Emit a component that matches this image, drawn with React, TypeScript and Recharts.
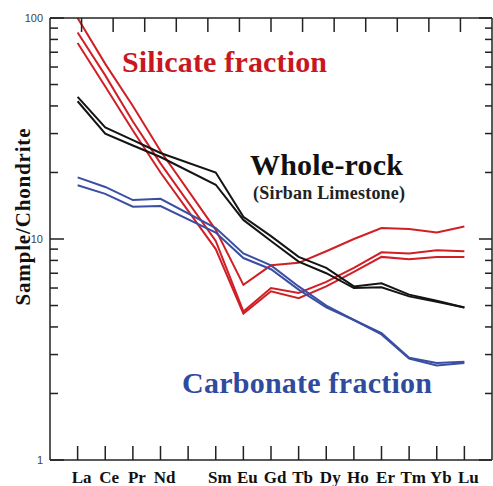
import { LineChart, Line, XAxis, YAxis } from 'recharts';

document.body.style.margin = '0';

const ELEMENTS = ['La', 'Ce', 'Pr', 'Nd', 'Pm', 'Sm', 'Eu', 'Gd', 'Tb', 'Dy', 'Ho', 'Er', 'Tm', 'Yb', 'Lu'];

// silicate fraction (red)
const SILICATE_A = [100, 62, 40, 25, null, 11, 6.2, 7.6, 7.8, 8.8, 10, 11.2, 11.1, 10.7, 11.4];
const SILICATE_B = [86, 55, 34, 22, null, 9.8, 4.7, 6.0, 5.7, 6.4, 7.4, 8.7, 8.6, 8.9, 8.8];
const SILICATE_C = [77, 49, 31, 20, null, 9.0, 4.6, 5.8, 5.4, 6.1, 7.1, 8.3, 8.1, 8.3, 8.3];

// whole-rock (black)
const WHOLE_A = [44, 32, 28, 24.5, null, 20, 12.6, 10.3, 8.3, 7.4, 6.1, 6.3, 5.6, 5.25, 4.9];
const WHOLE_B = [42, 30, 26.5, 23.5, null, 17.6, 12.2, 9.8, 7.9, 7.0, 6.0, 6.05, 5.5, 5.2, 4.9];

// carbonate fraction (blue)
const CARB_A = [19, 17.2, 15.0, 15.2, null, 11.2, 8.6, 7.6, 6.1, 5.0, 4.3, 3.75, 2.9, 2.75, 2.78];
const CARB_B = [17.5, 16, 14.0, 14.1, null, 10.7, 8.2, 7.3, 5.9, 4.9, 4.3, 3.7, 2.88, 2.68, 2.75];

const Y_TICKS = [1, 2, 3, 4, 5, 6, 7, 8, 9, 10, 20, 30, 40, 50, 60, 70, 80, 90, 100];
const Y_LABELS = [1, 10, 100];
const X_TICKS = [0, 1, 2, 3, 4, 5, 6, 7, 8, 9, 10, 11, 12, 13, 14];
const TOP_TICKS = [1, 2, 3, 4, 5, 6, 7, 8, 9, 10, 11, 12, 13];

const RED = '#d01f25';
const BLACK = '#141414';
const BLUE = '#3a4ea3';
const AXIS = '#222';
const SERIF = "'Liberation Serif', 'Times New Roman', serif";
const SANS = "'Liberation Sans', Arial, sans-serif";

const data = ELEMENTS.map((el, i) => ({
  pos: i,
  el,
  sa: SILICATE_A[i],
  sb: SILICATE_B[i],
  sc: SILICATE_C[i],
  wa: WHOLE_A[i],
  wb: WHOLE_B[i],
  ca: CARB_A[i],
  cb: CARB_B[i],
}));

const axisLine = { stroke: AXIS, strokeWidth: 1.5 };

// figure annotations, drawn inside the chart svg (a separate overlay svg made the tick marks vanish)
function Annotations() {
  return (
    <g>
      <text x={122} y={72} fontFamily={SERIF} fontWeight="bold" fontSize={30} fill="#c8181f" textLength={205}>
        Silicate fraction
      </text>
      <text x={250} y={175} fontFamily={SERIF} fontWeight="bold" fontSize={30} fill="#111" textLength={153}>
        Whole-rock
      </text>
      <text x={253} y={199} fontFamily={SERIF} fontWeight="bold" fontSize={18} fill="#222" textLength={152}>
        (Sirban Limestone)
      </text>
      <text x={182} y={393} fontFamily={SERIF} fontWeight="bold" fontSize={30} fill="#2f4b9e" textLength={250}>
        Carbonate fraction
      </text>
      <text
        x={0}
        y={0}
        transform="translate(30,217) rotate(-90)"
        textAnchor="middle"
        fontFamily={SERIF}
        fontWeight="bold"
        fontSize={21}
        fill="#111"
        textLength={177}
      >
        Sample/Chondrite
      </text>
    </g>
  );
}

// tick marks drawn as thin filled rects, pointing into the plot
function BottomTick({ x, y, payload }: any) {
  const el = ELEMENTS[payload.value];
  return (
    <g>
      <rect x={x - 0.75} y={y - 14} width={1.5} height={14} fill={AXIS} />
      {el !== 'Pm' && (
        <text x={x + 4} y={y + 23} textAnchor="middle" fontFamily={SERIF} fontWeight="bold" fontSize={17} fill="#111">
          {el}
        </text>
      )}
    </g>
  );
}

function TopTick({ x, y, payload }: any) {
  return (
    <g>
      <rect x={x - 0.75} y={y} width={1.5} height={14} fill={AXIS} />
      {payload.value === TOP_TICKS[0] && <Annotations />}
    </g>
  );
}

function LeftTick({ x, y, payload }: any) {
  const major = Y_LABELS.includes(payload.value);
  return (
    <g>
      <rect x={x} y={y - 0.75} width={major ? 14 : 8} height={1.5} fill={AXIS} />
      {major && (
        <text x={x - 7} y={y} textAnchor="end" dominantBaseline="central" fontFamily={SANS} fontSize={11} fill="#444">
          {payload.value}
        </text>
      )}
    </g>
  );
}

function RightTick({ x, y, payload }: any) {
  const len = Y_LABELS.includes(payload.value) ? 13 : 7;
  return <rect x={x - len} y={y - 0.75} width={len} height={1.5} fill={AXIS} />;
}

export default function App() {
  return (
    <div style={{ position: 'relative', width: 493, height: 486, background: '#fff' }}>
      <LineChart width={493} height={486} data={data} margin={{ top: 0, right: 0, bottom: 0, left: 0 }}>
        <XAxis
          xAxisId="b"
          dataKey="pos"
          type="number"
          domain={[-1, 15]}
          ticks={X_TICKS}
          interval={0}
          height={26}
          tickSize={0}
          tickMargin={0}
          tickLine={false}
          tick={(p: any) => <BottomTick {...p} />}
          axisLine={axisLine}
        />
        <XAxis
          xAxisId="t"
          dataKey="pos"
          orientation="top"
          type="number"
          domain={[0, 14]}
          ticks={TOP_TICKS}
          interval={0}
          height={18}
          tickSize={0}
          tickMargin={0}
          tickLine={false}
          tick={(p: any) => <TopTick {...p} />}
          axisLine={axisLine}
        />
        <YAxis
          yAxisId="l"
          scale="log"
          domain={[1, 100]}
          ticks={Y_TICKS}
          interval={0}
          width={50}
          tickSize={0}
          tickMargin={0}
          tickLine={false}
          tick={(p: any) => <LeftTick {...p} />}
          axisLine={axisLine}
          allowDataOverflow
        />
        <YAxis
          yAxisId="r"
          orientation="right"
          scale="log"
          domain={[1, 100]}
          ticks={Y_TICKS}
          interval={0}
          width={1}
          tickSize={0}
          tickMargin={0}
          tickLine={false}
          tick={(p: any) => <RightTick {...p} />}
          axisLine={axisLine}
          allowDataOverflow
        />
        <Line xAxisId="b" yAxisId="l" dataKey="sa" stroke={RED} strokeWidth={2} dot={false} connectNulls isAnimationActive={false} />
        <Line xAxisId="b" yAxisId="l" dataKey="sb" stroke={RED} strokeWidth={2} dot={false} connectNulls isAnimationActive={false} />
        <Line xAxisId="b" yAxisId="l" dataKey="sc" stroke={RED} strokeWidth={2} dot={false} connectNulls isAnimationActive={false} />
        <Line xAxisId="b" yAxisId="l" dataKey="wa" stroke={BLACK} strokeWidth={2} dot={false} connectNulls isAnimationActive={false} />
        <Line xAxisId="b" yAxisId="l" dataKey="wb" stroke={BLACK} strokeWidth={2} dot={false} connectNulls isAnimationActive={false} />
        <Line xAxisId="b" yAxisId="l" dataKey="ca" stroke={BLUE} strokeWidth={2} dot={false} connectNulls isAnimationActive={false} />
        <Line xAxisId="b" yAxisId="l" dataKey="cb" stroke={BLUE} strokeWidth={2} dot={false} connectNulls isAnimationActive={false} />
      </LineChart>
    </div>
  );
}
